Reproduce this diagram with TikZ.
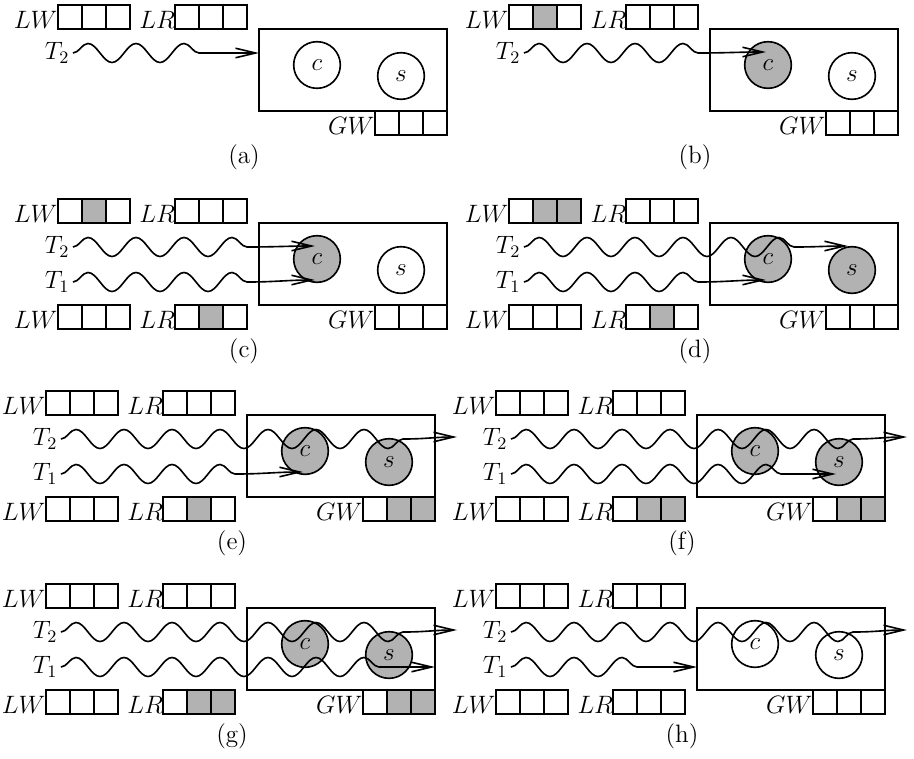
\RequirePackage{fix-cm}
\documentclass[tikz,border=0pt]{standalone}
\usetikzlibrary{decorations.pathmorphing,arrows.meta}

\definecolor{busy}{gray}{0.7}
\tikzset{
  cell/.style={draw},
  lab/.style={anchor=base east,inner sep=0pt},
  tlab/.style={anchor=east,inner sep=1.5pt},
  res/.style={circle,draw,minimum size=24.5pt,inner sep=0pt},
  mem/.style={draw,minimum width=98.7pt,minimum height=43pt,inner sep=0pt},
  wavy/.style={decoration={snake,amplitude=5pt,segment length=25.2pt}},
  flow/.style={-{Straight Barb[length=10.5pt,width=5pt]}},
}

% three cells of a log at (x,y), with their fills
\newcommand{\logcells}[3]{\foreach \f [count=\i from 0] in {#3} \draw[cell,fill=\f] (#1+24*\i,#2) rectangle ++(24,24);}
% local logs above and below
\newcommand{\toplogs}[2]{%
  \node[lab] (lw) at (-201,-1) {$LW$}; \logcells{-201}{-24}{#1}
  \node[lab] (lr) at (-83,-1) {$LR$}; \logcells{-84}{-24}{#2}}
\newcommand{\botlogs}[2]{%
  \node[lab] (lwb) at (-201,105) {$LW$}; \logcells{-201}{82}{#1}
  \node[lab] (lrb) at (-83,105) {$LR$}; \logcells{-84}{82}{#2}}
% the site: box, GW log, c and s, caption
\newcommand{\site}[4]{%
  \node[mem] (box) at (94,41) {};
  \node[lab] (gw) at (116,105) {$GW$}; \logcells{116}{82}{#1}
  \node[res,fill=#2] (c) at (58,36) {$c$};
  \node[res,fill=#3] (s) at (142,47) {$s$};
  \node (cap) at (-15,128) {(#4)};}

\begin{document}
\begin{tikzpicture}[x=0.525pt,y=-0.525pt,font=\fontsize{13.2}{15}\selectfont,line width=0.85pt]
  \useasboundingbox (0,0) rectangle (914,758);

  % (a)
  \begin{scope}[shift={(259,29)}]
    \toplogs{white,white,white}{white,white,white}
    \site{white,white,white}{white}{white}{a}
    \node[tlab] (t2) at (-186,24) {$T_2$};
    \coordinate (in2) at (0,24);
    \draw[flow] decorate[wavy]{(t2.east) -- ++(127,0)} -- (in2);
  \end{scope}

  % (b)
  \begin{scope}[shift={(710,29)}]
    \toplogs{white,busy,white}{white,white,white}
    \site{white,white,white}{busy}{white}{b}
    \node[tlab] (t2) at (-186,24) {$T_2$};
    \coordinate (hit2) at (56,23);
    \draw[flow] decorate[wavy]{(t2.east) -- ++(175,0)} to[out=0,in=180] (hit2);
  \end{scope}

  % (c)
  \begin{scope}[shift={(259,223)}]
    \toplogs{white,busy,white}{white,white,white}
    \botlogs{white,white,white}{white,busy,white}
    \site{white,white,white}{busy}{white}{c}
    \node[tlab] (t2) at (-186,24) {$T_2$};
    \node[tlab] (t1) at (-186,59) {$T_1$};
    \coordinate (hit2) at (56,23);
    \coordinate (hit1) at (56,57);
    \draw[flow] decorate[wavy]{(t2.east) -- ++(175,0)} to[out=0,in=180] (hit2);
    \draw[flow] decorate[wavy]{(t1.east) -- ++(175,0)} to[out=0,in=180] (hit1);
  \end{scope}

  % (d)
  \begin{scope}[shift={(710,223)}]
    \toplogs{white,busy,busy}{white,white,white}
    \botlogs{white,white,white}{white,busy,white}
    \site{white,white,white}{busy}{busy}{d}
    \node[tlab] (t2) at (-186,24) {$T_2$};
    \node[tlab] (t1) at (-186,59) {$T_1$};
    \coordinate (hit2) at (138,23);
    \coordinate (hit1) at (56,57);
    \draw[flow] decorate[wavy]{(t2.east) -- ++(271,0)} to[out=0,in=180] (hit2);
    \draw[flow] decorate[wavy]{(t1.east) -- ++(175,0)} to[out=0,in=180] (hit1);
  \end{scope}

  % (e)
  \begin{scope}[shift={(247,415)}]
    \toplogs{white,white,white}{white,white,white}
    \botlogs{white,white,white}{white,busy,white}
    \site{white,busy,busy}{busy}{busy}{e}
    \node[tlab] (t2) at (-186,24) {$T_2$};
    \node[tlab] (t1) at (-186,59) {$T_1$};
    \coordinate (out2) at (210,22);
    \coordinate (hit1) at (56,57);
    \draw[flow] decorate[wavy]{(t2.east) -- ++(343,0)} to[out=0,in=180] (out2);
    \draw[flow] decorate[wavy]{(t1.east) -- ++(175,0)} to[out=0,in=180] (hit1);
  \end{scope}

  % (f)
  \begin{scope}[shift={(697,415)}]
    \toplogs{white,white,white}{white,white,white}
    \botlogs{white,white,white}{white,busy,busy}
    \site{white,busy,busy}{busy}{busy}{f}
    \node[tlab] (t2) at (-186,24) {$T_2$};
    \node[tlab] (t1) at (-186,59) {$T_1$};
    \coordinate (out2) at (210,22);
    \coordinate (hit1) at (139,59);
    \draw[flow] decorate[wavy]{(t2.east) -- ++(343,0)} to[out=0,in=180] (out2);
    \draw[flow] decorate[wavy]{(t1.east) -- ++(271,0)} to[out=0,in=180] (hit1);
  \end{scope}

  % (g)
  \begin{scope}[shift={(247,608)}]
    \toplogs{white,white,white}{white,white,white}
    \botlogs{white,white,white}{white,busy,busy}
    \site{white,busy,busy}{busy}{busy}{g}
    \node[tlab] (t2) at (-186,24) {$T_2$};
    \node[tlab] (t1) at (-186,59) {$T_1$};
    \coordinate (out2) at (210,22);
    \coordinate (out1) at (188,59);
    \draw[flow] decorate[wavy]{(t2.east) -- ++(343,0)} to[out=0,in=180] (out2);
    \draw[flow] decorate[wavy]{(t1.east) -- ++(319,0)} to[out=0,in=180] (out1);
  \end{scope}

  % (h)
  \begin{scope}[shift={(697,608)}]
    \toplogs{white,white,white}{white,white,white}
    \botlogs{white,white,white}{white,white,white}
    \site{white,white,white}{white}{white}{h}
    \node[tlab] (t2) at (-186,24) {$T_2$};
    \node[tlab] (t1) at (-186,59) {$T_1$};
    \coordinate (out2) at (210,22);
    \coordinate (in1) at (0,59);
    \draw[flow] decorate[wavy]{(t2.east) -- ++(343,0)} to[out=0,in=180] (out2);
    \draw[flow] decorate[wavy]{(t1.east) -- ++(127,0)} -- (in1);
  \end{scope}

\end{tikzpicture}
\end{document}
